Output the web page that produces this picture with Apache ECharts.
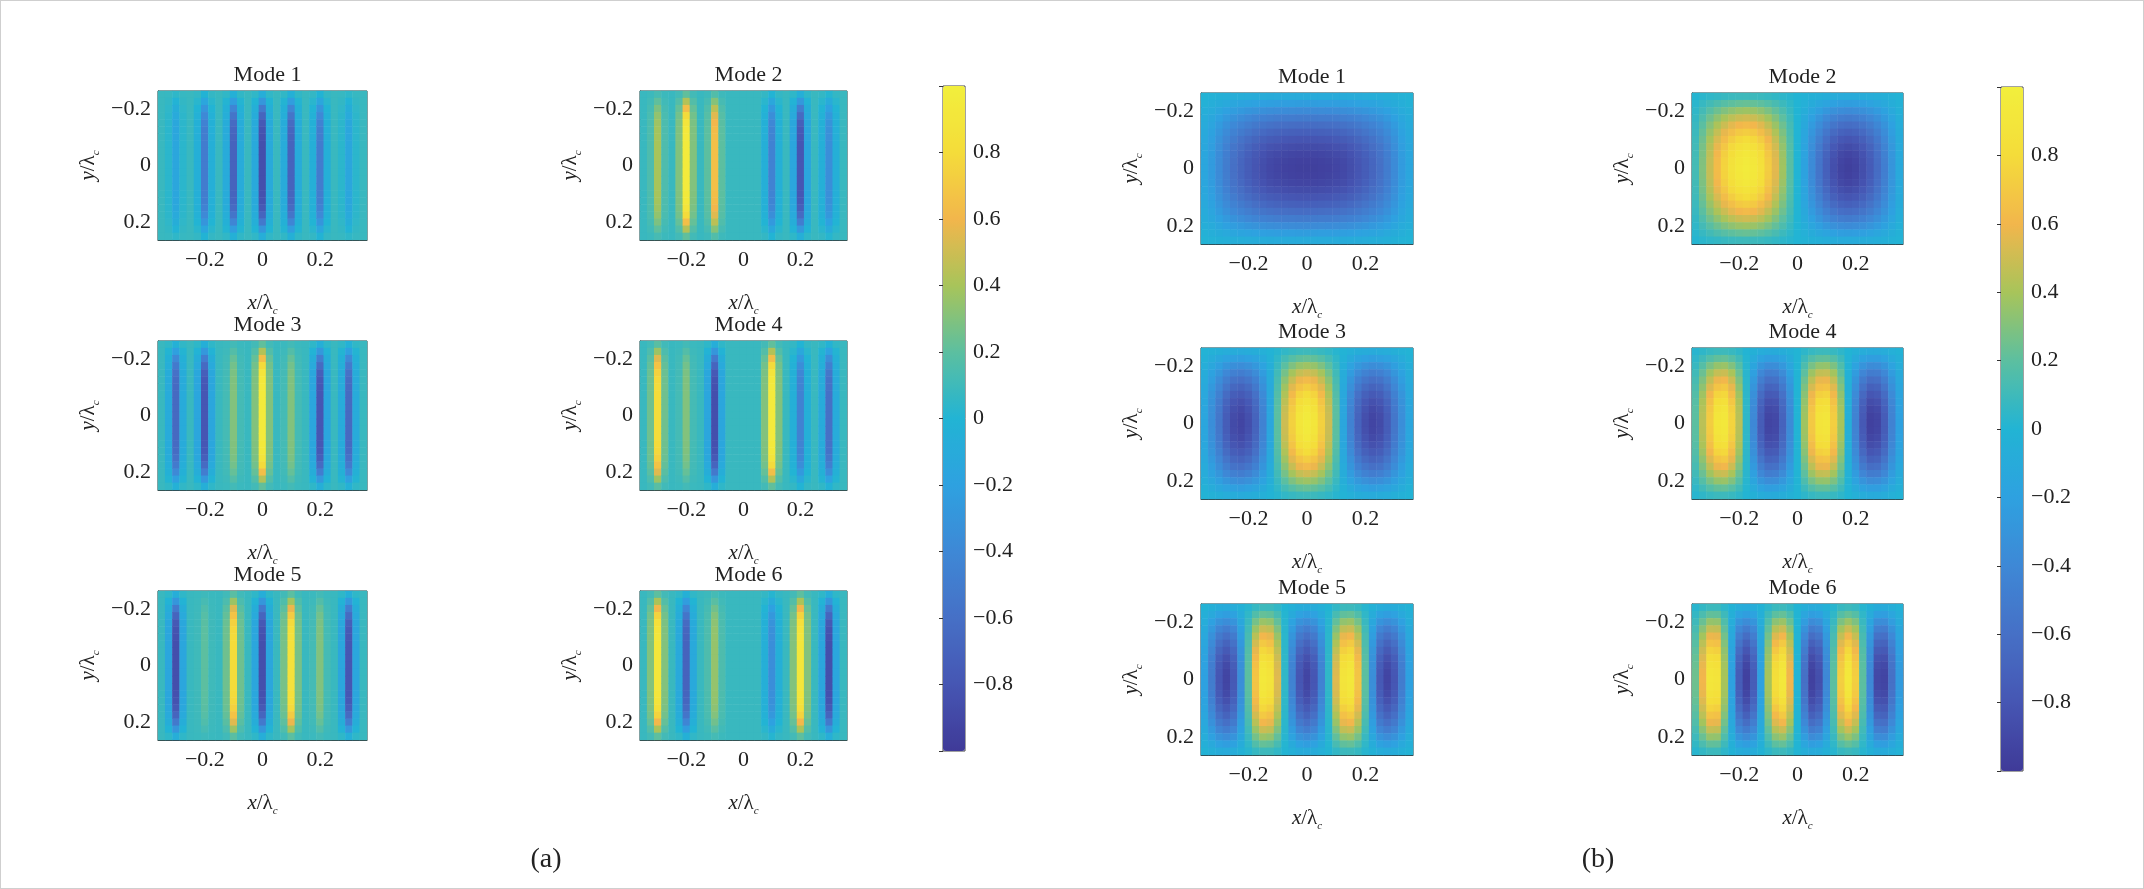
<!DOCTYPE html>
<html><head><meta charset="utf-8">
<script src="https://cdn.jsdelivr.net/npm/echarts@6/dist/echarts.min.js"></script>
<style>html,body{margin:0;padding:0;background:#fff}#c{width:2142px;height:887px;border:1px solid #cfcfcf}</style>
</head><body><div id="c"></div>
<script>
// x samples: -0.35 .. 0.35 step 0.025 (29); y samples -0.25 .. 0.25 step 0.025 (21)
const xCats = ["-0.35","-0.325","-0.3","-0.275","-0.25","-0.225","-0.2","-0.175","-0.15","-0.125","-0.1","-0.075","-0.05","-0.025","0","0.025","0.05","0.075","0.1","0.125","0.15","0.175","0.2","0.225","0.25","0.275","0.3","0.325","0.35"];
const yCats = ["-0.25","-0.225","-0.2","-0.175","-0.15","-0.125","-0.1","-0.075","-0.05","-0.025","0","0.025","0.05","0.075","0.1","0.125","0.15","0.175","0.2","0.225","0.25"];
const tickIdxX = [6,14,22];
const tickIdxY = [2,10,18];
const colorbarTicks = [-0.8,-0.6,-0.4,-0.2,0,0.2,0.4,0.6,0.8];
const bgA = 0.08;
// (a) x-profiles at y = 0
const a1 = [0.08,0.03,-0.15,0.03,0.08,-0.05,-0.5,-0.05,0.08,-0.1,-0.7,-0.1,0.08,-0.12,-0.85,-0.12,0.08,-0.1,-0.7,-0.1,0.08,-0.05,-0.5,-0.05,0.08,0.03,-0.15,0.03,0.08];
const a2 = [0.08,0.15,0.4,0.15,0.08,0.3,0.95,0.3,0.08,0.2,0.65,0.2,0.08,0.08,0.08,0.08,0.08,-0.05,-0.45,-0.05,0.08,-0.15,-0.8,-0.15,0.08,-0.05,-0.35,-0.05,0.08];
const a3 = [0.08,-0.1,-0.65,-0.1,0.08,-0.15,-0.8,-0.15,0.08,0.12,0.3,0.12,0.08,0.3,0.95,0.3,0.08,0.12,0.3,0.12,0.08,-0.15,-0.8,-0.15,0.08,-0.1,-0.65,-0.1,0.08];
const a4 = [0.08,0.25,0.8,0.25,0.08,0.12,0.3,0.12,0.08,-0.15,-0.85,-0.15,0.08,0.08,0.08,0.08,0.08,0.3,0.95,0.3,0.08,-0.05,-0.45,-0.05,0.08,-0.1,-0.6,-0.1,0.08];
const a5 = [0.08,-0.15,-0.85,-0.15,0.08,0.1,0.2,0.1,0.08,0.25,0.8,0.25,0.08,-0.15,-0.85,-0.15,0.08,0.27,0.85,0.27,0.08,0.12,0.3,0.12,0.08,-0.15,-0.8,-0.15,0.08];
const a6 = [0.08,0.3,0.9,0.3,0.08,-0.12,-0.7,-0.12,0.08,0.15,0.35,0.15,0.08,0.08,0.08,0.08,0.08,-0.05,-0.35,-0.05,0.08,0.3,0.9,0.3,0.08,-0.15,-0.85,-0.15,0.08];
const envA = [0.15,0.4,0.65,0.82,0.92,0.97,0.99,1,1,1,1,1,1,1,0.99,0.97,0.92,0.82,0.65,0.4,0.15];
// (b) x-profiles at y = 0
const b1 = [-0.15,-0.25,-0.38,-0.5,-0.6,-0.68,-0.75,-0.81,-0.86,-0.9,-0.92,-0.94,-0.95,-0.96,-0.96,-0.96,-0.95,-0.94,-0.92,-0.9,-0.86,-0.81,-0.75,-0.68,-0.6,-0.5,-0.38,-0.25,-0.15];
const b2 = [0.12,0.3,0.48,0.63,0.76,0.86,0.93,0.96,0.93,0.85,0.72,0.56,0.38,0.19,0,-0.19,-0.38,-0.56,-0.72,-0.85,-0.93,-0.96,-0.93,-0.86,-0.76,-0.63,-0.48,-0.3,-0.12];
const b3 = [-0.15,-0.35,-0.55,-0.75,-0.88,-0.92,-0.85,-0.7,-0.45,-0.15,0.2,0.5,0.74,0.9,0.96,0.9,0.74,0.5,0.2,-0.15,-0.45,-0.7,-0.85,-0.92,-0.88,-0.75,-0.55,-0.35,-0.15];
const b4 = [0.2,0.45,0.72,0.9,0.93,0.76,0.45,0.05,-0.4,-0.75,-0.92,-0.9,-0.7,-0.38,0,0.38,0.7,0.88,0.9,0.73,0.4,-0.05,-0.45,-0.78,-0.95,-0.92,-0.75,-0.45,-0.2];
const b5 = [-0.2,-0.5,-0.8,-0.92,-0.78,-0.35,0.2,0.68,0.93,0.88,0.55,0.05,-0.45,-0.8,-0.92,-0.8,-0.45,0.05,0.55,0.88,0.93,0.68,0.2,-0.35,-0.78,-0.92,-0.8,-0.5,-0.2];
const b6 = [0.25,0.6,0.9,0.88,0.4,-0.2,-0.75,-0.95,-0.75,-0.2,0.4,0.83,0.93,0.6,0,-0.6,-0.95,-0.85,-0.4,0.2,0.73,0.93,0.73,0.2,-0.4,-0.9,-0.92,-0.6,-0.25];
const envB = [0.1,0.24,0.39,0.53,0.65,0.75,0.84,0.91,0.96,0.99,1,0.99,0.96,0.91,0.84,0.75,0.65,0.53,0.39,0.24,0.1];

const parula = ['#3f3a98','#4656b3','#4670c6','#3e88d6','#2ea1e0','#22b4d4','#5cbfa0','#a8c45a','#f2b64c','#f4dc3a','#f2ef3c'];
const FONT = 'Liberation Serif';

const panels = [
  {t:'Mode 1', p:a1, env:envA, bg:bgA, l:157, top:90, w:209, h:149, g:'a'},
  {t:'Mode 2', p:a2, env:envA, bg:bgA, l:639, top:90, w:207, h:149, g:'a'},
  {t:'Mode 3', p:a3, env:envA, bg:bgA, l:157, top:340, w:209, h:149, g:'a'},
  {t:'Mode 4', p:a4, env:envA, bg:bgA, l:639, top:340, w:207, h:149, g:'a'},
  {t:'Mode 5', p:a5, env:envA, bg:bgA, l:157, top:590, w:209, h:149, g:'a'},
  {t:'Mode 6', p:a6, env:envA, bg:bgA, l:639, top:590, w:207, h:149, g:'a'},
  {t:'Mode 1', p:b1, env:envB, bg:0, l:1200, top:92, w:212, h:151, g:'b'},
  {t:'Mode 2', p:b2, env:envB, bg:0, l:1691, top:92, w:211, h:151, g:'b'},
  {t:'Mode 3', p:b3, env:envB, bg:0, l:1200, top:347, w:212, h:151, g:'b'},
  {t:'Mode 4', p:b4, env:envB, bg:0, l:1691, top:347, w:211, h:151, g:'b'},
  {t:'Mode 5', p:b5, env:envB, bg:0, l:1200, top:603, w:212, h:151, g:'b'},
  {t:'Mode 6', p:b6, env:envB, bg:0, l:1691, top:603, w:211, h:151, g:'b'}
];
const fmt = v => String(Number(v)).replace('-', '\u2212');
const rich = {i:{fontFamily:FONT,fontStyle:'italic',fontSize:21,color:'#222'},n:{fontFamily:FONT,fontSize:21,color:'#222'},s:{fontFamily:FONT,fontStyle:'italic',fontSize:11,color:'#222',padding:[16,0,0,0]}};

const grids=[], xAxes=[], yAxes=[], series=[], titles=[], seriesA=[], seriesB=[];
panels.forEach((P,k)=>{
  grids.push({left:P.l, top:P.top, width:P.w, height:P.h, show:true, borderColor:'#333', borderWidth:1});
  xAxes.push({type:'category', gridIndex:k, data:xCats, boundaryGap:true,
    axisLine:{show:true,lineStyle:{color:'#333'}},
    axisTick:{inside:true, alignWithLabel:true, length:4, interval:(i)=>tickIdxX.includes(i), lineStyle:{color:'#333'}},
    axisLabel:{interval:(i)=>tickIdxX.includes(i), formatter:fmt, fontFamily:FONT, fontSize:22, color:'#222', margin:9},
    name:'{i|x}{n|/λ}{s|c}', nameLocation:'middle', nameGap:50, nameTextStyle:{rich:rich}});
  yAxes.push({type:'category', gridIndex:k, data:yCats, inverse:true, boundaryGap:true,
    axisLine:{show:true,lineStyle:{color:'#333'}},
    axisTick:{inside:true, alignWithLabel:true, length:4, interval:(i)=>tickIdxY.includes(i), lineStyle:{color:'#333'}},
    axisLabel:{interval:(i)=>tickIdxY.includes(i), formatter:fmt, fontFamily:FONT, fontSize:22, color:'#222', margin:7},
    name:'{i|y}{n|/λ}{s|c}', nameLocation:'middle', nameGap:56, nameRotate:90, nameTextStyle:{rich:rich}});
  const data=[];
  for(let xi=0;xi<xCats.length;xi++) for(let yi=0;yi<yCats.length;yi++)
    data.push([xi, yi, P.bg + (P.p[xi]-P.bg)*P.env[yi]]);
  const si = series.length;
  series.push({type:'heatmap', xAxisIndex:k, yAxisIndex:k, data:data, itemStyle:{borderWidth:0}, progressive:0});
  (P.g==='a'?seriesA:seriesB).push(si);
  titles.push({text:P.t, left:P.l+P.w/2, top:P.top-32, textAlign:'center', textStyle:{fontFamily:FONT, fontSize:22, fontWeight:'normal', color:'#222'}});
});
const cbs = [{l:942, top:85, h:665},{l:2000, top:86, h:684}];
cbs.forEach(c=>{
  const k = grids.length;
  grids.push({left:c.l, top:c.top, width:22, height:c.h, show:true, borderColor:'#444', borderWidth:1, backgroundColor:'transparent'});
  xAxes.push({type:'value', gridIndex:k, show:false, min:0, max:1});
  yAxes.push({type:'value', gridIndex:k, position:'right', min:-1, max:1, interval:0.2,
    axisLine:{show:false}, splitLine:{show:false},
    axisTick:{inside:true, length:4, lineStyle:{color:'#333'}},
    axisLabel:{formatter:v=>colorbarTicks.some(t=>Math.abs(t-v)<1e-6)?fmt(Math.round(v*10)/10):'', fontFamily:FONT, fontSize:22, color:'#222', margin:8}});
});
titles.push({text:'(a)', left:540, top:840, textAlign:'center', textStyle:{fontFamily:FONT,fontSize:28,fontWeight:'normal',color:'#222'}});
titles.push({text:'(b)', left:1592, top:840, textAlign:'center', textStyle:{fontFamily:FONT,fontSize:28,fontWeight:'normal',color:'#222'}});

const vm = (c, idx) => ({type:'continuous', min:-1, max:1, seriesIndex:idx, left:c.l, top:c.top, itemWidth:22, itemHeight:c.h,
  padding:0, calculable:false, text:['',''], showLabel:false, inRange:{color:parula}, realtime:false});

const chart = echarts.init(document.getElementById('c'), null, {renderer:'canvas'});
chart.setOption({animation:false, title:titles, grid:grids, xAxis:xAxes, yAxis:yAxes, series:series,
  visualMap:[vm(cbs[0], seriesA), vm(cbs[1], seriesB)]});
</script></body></html>
